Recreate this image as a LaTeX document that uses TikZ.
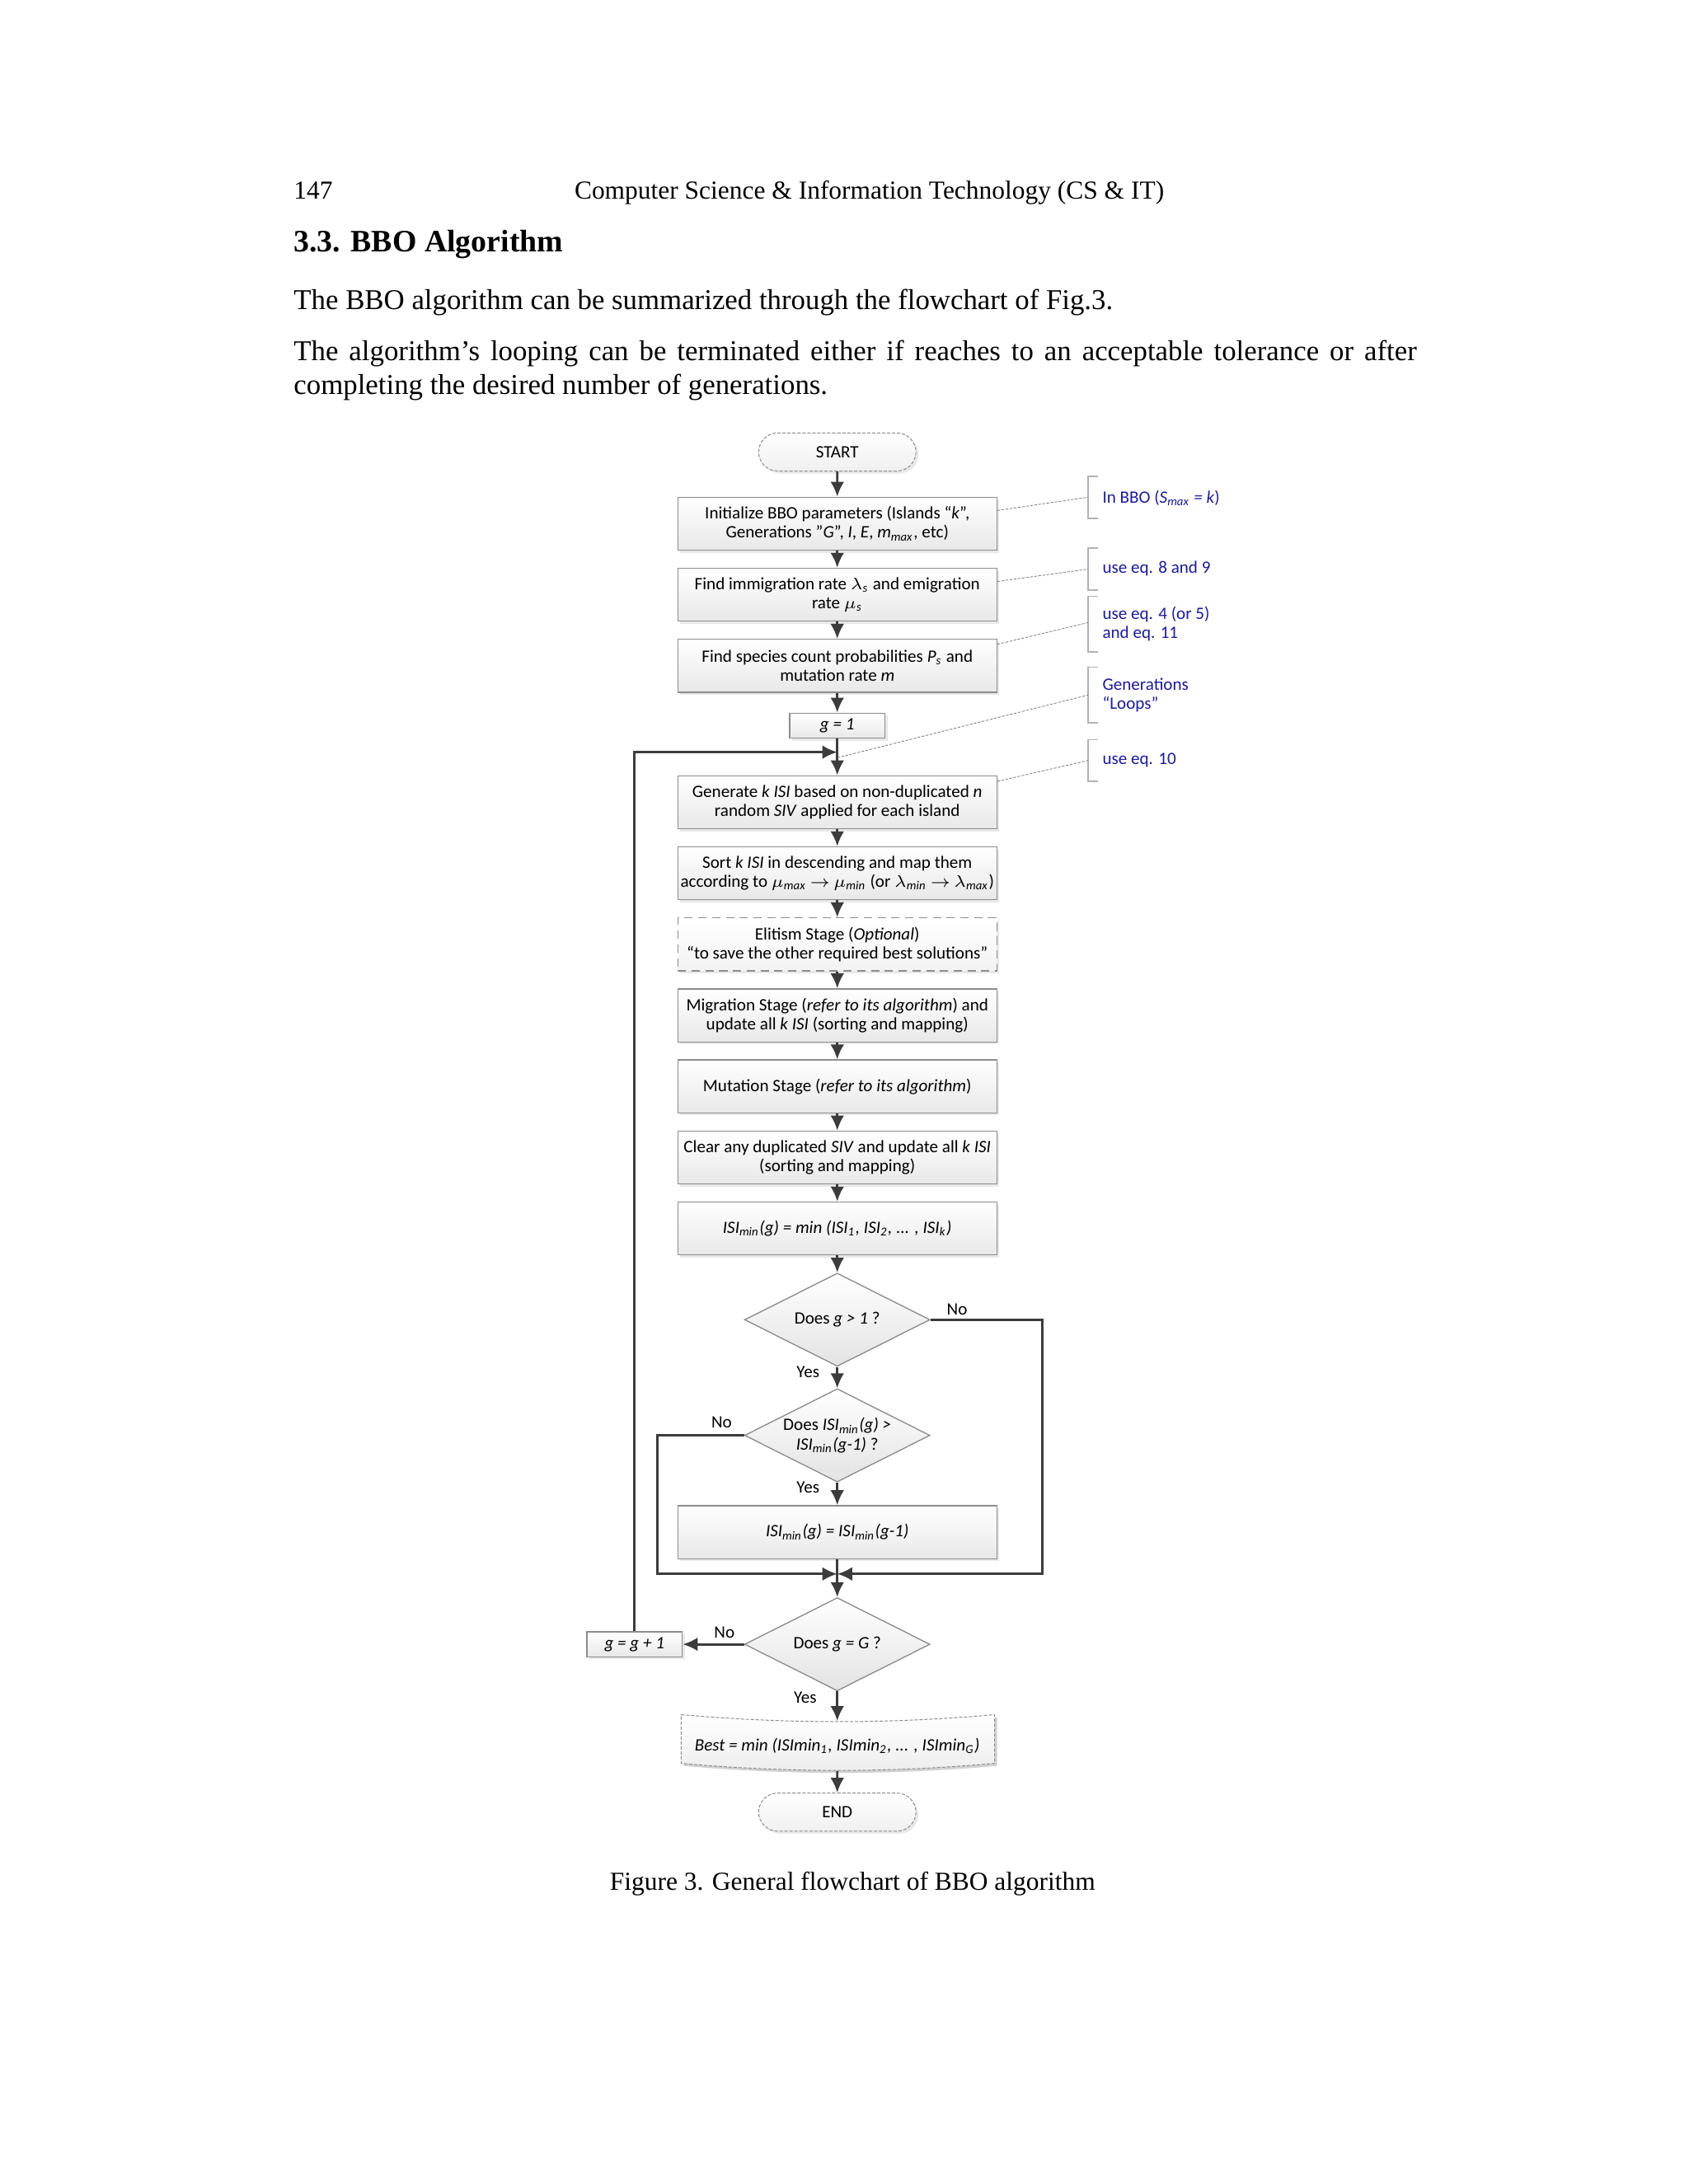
\documentclass[tikz,border=0pt]{standalone}
\usepackage{fontspec}
\setmainfont{Liberation Serif}
\newfontfamily\calib{Carlito}
\usetikzlibrary{arrows.meta}
\usetikzlibrary{shapes.geometric, shapes.misc, shadows}
\definecolor{notecol}{RGB}{28,28,150}
\definecolor{flowcol}{RGB}{60,60,60}
\definecolor{edgecol}{RGB}{140,140,140}
\newcommand{\lsub}[1]{\textsubscript{#1}}
\newcommand{\fcfont}{\calib\fontsize{6.3}{6.9}\selectfont}

\def\bw{115.6pt} %width of process boxes
\def\bh{19.2pt}

\tikzset{
  procbox/.style={rectangle, draw=edgecol, line width=0.4pt, top color=white,
    bottom color=black!9, drop shadow={shadow xshift=0.9pt, shadow yshift=-0.9pt, opacity=0.18},
    minimum width=\bw, minimum height=\bh, inner sep=0.5pt, align=center, font=\fcfont},
  elitbox/.style={procbox, densely dashed, bottom color=black!5},
  smallbox/.style={procbox, minimum width=34.6pt, minimum height=9.1pt},
  decbox/.style={diamond, aspect=2, draw=edgecol, line width=0.4pt, top color=white,
    bottom color=black!11, minimum width=67.2pt, minimum height=33.8pt, inner sep=0pt,
    align=center, font=\fcfont},
  termbox/.style={rounded rectangle, draw=black!45, dash pattern=on 1.2pt off 0.6pt, line width=0.3pt,
    top color=white, bottom color=black!6, drop shadow={shadow xshift=0.9pt, shadow yshift=-0.9pt, opacity=0.18},
    minimum width=57pt, minimum height=13.8pt, inner sep=0pt, font=\fcfont},
  bestbox/.style={rectangle, minimum width=113.6pt, minimum height=17.7pt, inner sep=0pt, font=\fcfont},
  flow/.style={draw=flowcol, line width=0.85pt, -{Latex[length=5.4pt,width=5pt]}},
  lbl/.style={inner sep=0pt, font=\fcfont},
  note/.style={anchor=west, inner sep=0pt, align=left, text=notecol, font=\fcfont},
  brk/.style={draw=black!30, line width=0.5pt},
  leader/.style={draw=black!50, dash pattern=on 1pt off 0.5pt, line width=0.25pt},
  pagetxt/.style={inner sep=0pt, font=\fontsize{10.4}{12.1}\selectfont}
}

\begin{document}
\begin{tikzpicture}[x=0.50495pt, y=-0.50495pt]

\fill[white] (0,0) rectangle (1212,1568);
\useasboundingbox (0,0) rectangle (1212,1568);

\def\cx{601} %main column

%page text
\node[pagetxt, anchor=base west, font=\fontsize{9.4}{11}\selectfont] (pgno) at (210.5,143) {147};
\node[pagetxt, anchor=base, font=\fontsize{9.4}{11}\selectfont] (hdr) at (624,143) {Computer Science \& Information Technology (CS \& IT)};
\node[pagetxt, anchor=base west, font=\bfseries\fontsize{11.3}{13}\selectfont] (sec) at (210.5,181) {3.3. BBO Algorithm};
\node[pagetxt, anchor=base west] (par1) at (210.5,222) {The BBO algorithm can be summarized through the flowchart of Fig.3.};
\node[pagetxt, anchor=north west, text width=407pt, align=justify] (par2) at (210.5,244)
  {The algorithm’s looping can be terminated either if reaches to an acceptable tolerance or after completing the desired number of generations.};

%flowchart column
\node[termbox] (start) at (\cx,324.5) {START};
\node[procbox] (b1) at (\cx,376) {Initialize BBO parameters (Islands “\textit{k}”,\\Generations ”\textit{G}”, \textit{I}, \textit{E}, \textit{m}\lsub{\textit{max}}, etc)};
\node[procbox] (b2) at (\cx,427) {Find immigration rate $\lambda$\lsub{\textit{s}} and emigration\\rate $\mu$\lsub{\textit{s}}};
\node[procbox] (b3) at (\cx,478) {Find species count probabilities \textit{P}\lsub{\textit{s}} and\\mutation rate \textit{m}};
\node[smallbox] (g1) at (\cx,521) {\textit{g = 1}};
\coordinate (loopin) at (\cx,540);
\node[procbox] (b4) at (\cx,576) {Generate \textit{k ISI} based on non-duplicated \textit{n}\\random \textit{SIV} applied for each island};
\node[procbox] (b5) at (\cx,627) {Sort \textit{k ISI} in descending and map them\\according to \textit{$\mu$\lsub{max}}$\,\rightarrow\,$\textit{$\mu$\lsub{min}} (or \textit{$\lambda$\lsub{min}}$\,\rightarrow\,$\textit{$\lambda$\lsub{max}})};
\node[elitbox] (b6) at (\cx,678) {Elitism Stage (\textit{Optional})\\“to save the other required best solutions”};
\node[procbox] (b7) at (\cx,729) {Migration Stage (\textit{refer to its algorithm}) and\\update all \textit{k ISI} (sorting and mapping)};
\node[procbox] (b8) at (\cx,780) {Mutation Stage (\textit{refer to its algorithm})};
\node[procbox] (b9) at (\cx,831) {Clear any duplicated \textit{SIV} and update all \textit{k ISI}\\(sorting and mapping)};
\node[procbox] (b10) at (\cx,882) {\textit{ISI\lsub{min}(g) = min (ISI\lsub{1}, ISI\lsub{2}, ... , ISI\lsub{k})}};
\node[decbox] (d1) at (\cx,947.5) {Does \textit{g > 1} ?};
\node[decbox] (d2) at (\cx,1030.5) {Does \textit{ISI\lsub{min}(g) >}\\\textit{ISI\lsub{min}(g-1)} ?};
\node[procbox] (b11) at (\cx,1100) {\textit{ISI\lsub{min}(g) = ISI\lsub{min}(g-1)}};
\coordinate (jn) at (\cx,1130);
\node[decbox] (d3) at (\cx,1180.5) {Does \textit{g = G} ?};
\node[smallbox] (ginc) at (455.5,1180.5) {\textit{g = g + 1}};

%best (wavy box)
\fill[black!18, shift={(0.9pt,-0.9pt)}] (489,1231) .. controls (564,1237.7) and (639,1237.7) .. (714,1231)
  -- (714,1266) .. controls (639,1272.7) and (564,1272.7) .. (489,1266) -- cycle;
\path[draw=black!45, dash pattern=on 1.2pt off 0.6pt, line width=0.3pt, top color=white, bottom color=black!7]
  (489,1231) .. controls (564,1237.7) and (639,1237.7) .. (714,1231)
  -- (714,1266) .. controls (639,1272.7) and (564,1272.7) .. (489,1266) -- cycle;
\node[bestbox] (best) at (\cx,1253.5) {\textit{Best = min (ISImin\lsub{1}, ISImin\lsub{2}, ... , ISImin\lsub{G})}};
\node[termbox] (stop) at (\cx,1301) {END};

%arrows
\foreach \a/\b in {start/b1,b1/b2,b2/b3,b3/g1,g1/b4,b4/b5,b5/b6,b6/b7,b7/b8,b8/b9,b9/b10,
  b10/d1,d1/d2,d2/b11,b11/d3,d3/best,best/stop}
  \draw[flow] (\a) -- (\b);
\coordinate (nol) at (472,1130);
\coordinate (nor) at (748,1130);
\draw[flow] (d2.west) -| (nol) -- (jn);
\draw[flow] (d1.east) -| (nor) -- (jn);
\draw[flow] (d3.west) -- (ginc.east);
\draw[flow] (ginc.north) -- (ginc |- loopin) -- (loopin);

%yes/no
\node[lbl] (no1) at (687,940) {No};
\node[lbl] (yes1) at (580,985) {Yes};
\node[lbl] (no2) at (518,1021) {No};
\node[lbl] (yes2) at (580,1068) {Yes};
\node[lbl] (no3) at (520,1172) {No};
\node[lbl] (yes3) at (578,1219) {Yes};

%notes
\foreach \t/\b in {342/372,393.5/423.7,428/468,479/519,531/561}
  \draw[brk] (788,\t) -- (781,\t) -- (781,\b) -- (788,\b);
\node[note] (n1) at (791,357.5) {In BBO (\textit{S\lsub{max} = k})};
\node[note] (n2) at (791,408) {use eq. 8 and 9};
\node[note] (n3) at (791,448) {use eq. 4 (or 5)\\and eq. 11};
\node[note] (n4) at (791,499) {Generations\\“Loops”};
\node[note] (n5) at (791,546) {use eq. 10};
\coordinate (br1) at (781,357);
\coordinate (br2) at (781,408.6);
\coordinate (br3) at (781,447);
\coordinate (br4) at (781,499);
\coordinate (br5) at (781,546);
\draw[leader] ([yshift=4.8pt]b1.east) -- (br1);
\draw[leader] ([yshift=4.8pt]b2.east) -- (br2);
\draw[leader] ([yshift=7.8pt]b3.east) -- (br3);
\draw[leader] ([yshift=-2pt]loopin) -- (br4);
\draw[leader] ([yshift=7.6pt]b4.east) -- (br5);

%caption
\node[pagetxt, anchor=base, font=\fontsize{9.4}{11}\selectfont] (cap) at (612,1357) {Figure 3. General flowchart of BBO algorithm};

\end{tikzpicture}
\end{document}
